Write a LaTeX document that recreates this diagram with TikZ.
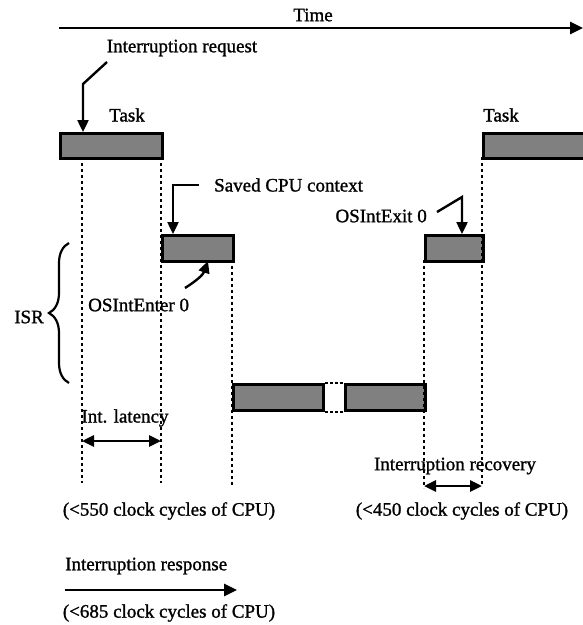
\documentclass[tikz,border=0pt]{standalone}
\usepackage{fontspec}
\setmainfont{Liberation Serif}[BoldFont=Liberation Serif, BoldFeatures={FakeBold=1.2}]
\usetikzlibrary{arrows.meta,decorations.pathreplacing}
\tikzset{
  txt/.style={inner sep=0pt, font=\fontsize{19}{22}\selectfont\bfseries},
  bar/.style={draw, line width=3pt, fill=black!50, minimum height=25pt, inner sep=0pt, anchor=north west},
  guide/.style={line width=2.8pt, dash pattern=on 3pt off 3pt},
  arr/.style={line width=2.4pt, -{Triangle[length=12pt,width=11pt]}},
  darr/.style={line width=2.8pt, {Triangle[length=12pt,width=11pt]}-{Triangle[length=12pt,width=11pt]}},
}
\begin{document}
\begin{tikzpicture}[x=1pt,y=-1pt]
\useasboundingbox (0,0) rectangle (583,625);
% time axis
\coordinate (t0) at (59,28);
\coordinate (t1) at (583,28);
\draw[line width=2.8pt, -{Triangle[length=13pt,width=12pt]}] (t0) -- (t1);
\node[txt] (time) at (313,15) {Time};
% bars
\node[bar, minimum width=102pt] (task1) at (59,132) {};
\node[bar, minimum width=71pt, minimum height=26pt] (isr1) at (161,234) {};
\node[bar, minimum width=90pt, minimum height=26pt] (busy1) at (232,383) {};
\node[bar, minimum width=80pt, minimum height=26pt] (busy2) at (344,383) {};
\node[bar, minimum width=58pt, minimum height=26pt] (isr2) at (424,234) {};
\node[bar, minimum width=115pt] (task2) at (482,132) {};
\draw[line width=1.2pt, dash pattern=on 3pt off 2pt] (busy1.north east) -- (busy2.north west);
\draw[line width=1.2pt, dash pattern=on 3pt off 2pt] (busy1.south east) -- (busy2.south west);
% labels
\node[txt] (task1l) at (127,115) {Task};
\node[txt] (task2l) at (501,115) {Task};
\node[txt] (req) at (182,48) {Interruption request};
\node[txt, anchor=west] (saved) at (214,185) {Saved CPU context};
\node[txt, anchor=west] (enter) at (88,305) {OSIntEnter 0};
\node[txt, anchor=east] (exit) at (427,216) {OSIntExit 0};
\node[txt, anchor=east] (isr) at (44,317) {ISR};
% arrows to bars
\coordinate (r0) at (107,62);
\coordinate (r1) at (83,84);
\draw[arr] (r0) -- (r1) -- (r1 |- task1.north);
\coordinate (s0) at (199,185);
\coordinate (s1) at (173,185);
\draw[arr] (s0) -- (s1) -- (s1 |- isr1.north);
\coordinate (e0) at (185,288);
\coordinate (e1) at (208,261);
\draw[arr] (e0) .. controls (196,281) and (203,275) .. (e1);
\coordinate (x0) at (437,212);
\coordinate (x1) at (462,197);
\draw[arr] (x0) -- (x1) -- (x1 |- isr2.north);
% brace
\coordinate (b0) at (69,383);
\coordinate (b1) at (69,243);
\draw[line width=2.2pt, decorate, decoration={brace, amplitude=20pt}] (b0) -- (b1);
% guide lines
\coordinate (g1a) at (82,157);  \coordinate (g1b) at (82,483);
\coordinate (g2a) at (161,157); \coordinate (g2b) at (161,483);
\coordinate (g3a) at (232,260); \coordinate (g3b) at (232,486);
\coordinate (g4a) at (424,260); \coordinate (g4b) at (424,488);
\coordinate (g5a) at (482,157); \coordinate (g5b) at (482,486);
\draw[guide] (g1a) -- (g1b);
\draw[guide] (g2a) -- (g2b);
\draw[guide] (g3a) -- (g3b);
\draw[guide] (g4a) -- (g4b);
\draw[guide] (g5a) -- (g5b);
% measures
\node[txt] (lat) at (125,418) {Int. latency};
\coordinate (l0) at (82,441);
\coordinate (l1) at (161,441);
\draw[darr] (l0) -- (l1);
\node[txt] (rec) at (455,466) {Interruption recovery};
\coordinate (c0) at (424,486);
\coordinate (c1) at (482,486);
\draw[darr] (c0) -- (c1);
\node[txt] (n550) at (169,511) {(<550 clock cycles of CPU)};
\node[txt] (n450) at (462,511) {(<450 clock cycles of CPU)};
\node[txt, anchor=west] (resp) at (65,566) {Interruption response};
\coordinate (p0) at (65,590);
\coordinate (p1) at (237,590);
\draw[line width=2.8pt, -{Triangle[length=13pt,width=12pt]}] (p0) -- (p1);
\node[txt] (n685) at (169,613) {(<685 clock cycles of CPU)};
\end{tikzpicture}
\end{document}
